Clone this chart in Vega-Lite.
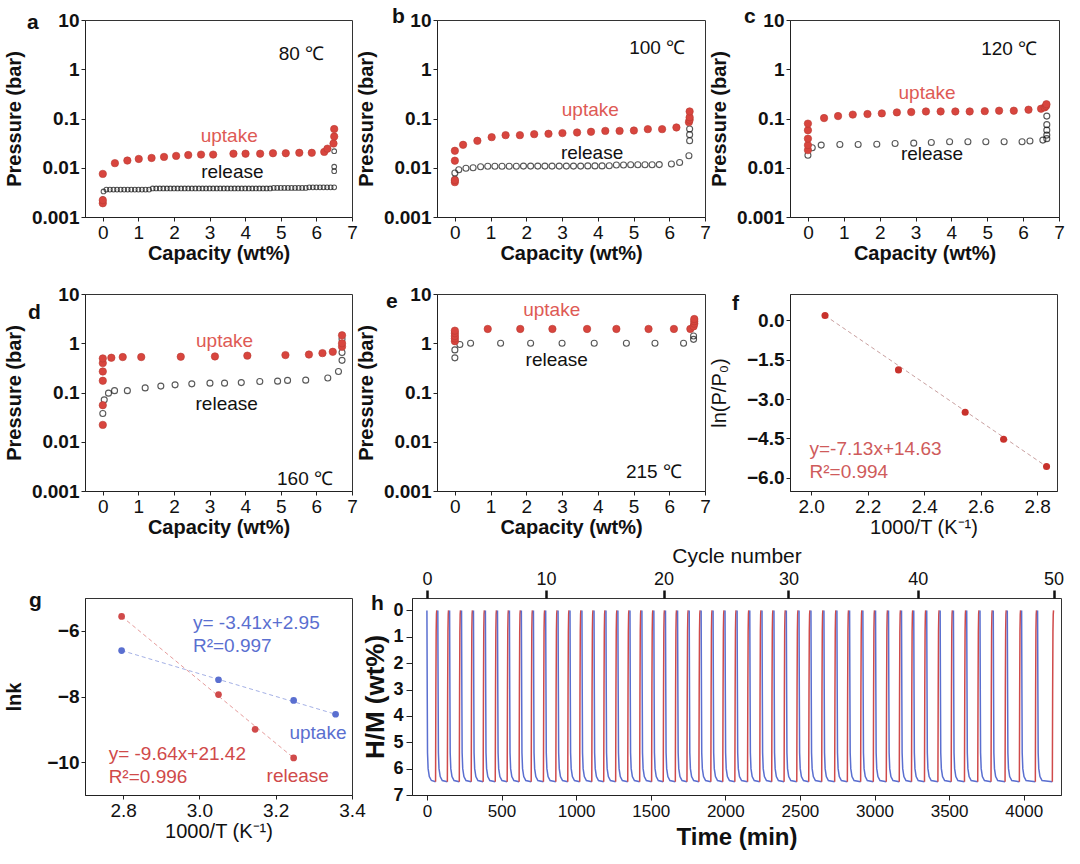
{
"$schema":"https://vega.github.io/schema/vega-lite/v6.json",
"autosize":{"type":"pad"},
"padding":{"left":3,"top":5,"right":0,"bottom":0},
"background":"white",
"config":{
 "font":"Liberation Sans",
 "view":{"stroke":"#333","strokeWidth":1},
 "axis":{"grid":false,"domainColor":"#222","tickColor":"#222","labelColor":"#111","titleColor":"#111","labelFontSize":19,"titleFontSize":20,"titleFontWeight":"bold","tickSize":4,"labelPadding":2,"labelFlush":false,"labelOverlap":false,"labelBound":false},
 "axisX":{"titlePadding":1},
 "axisY":{"labelFontWeight":"bold","minExtent":57,"maxExtent":57,"titlePadding":4},
 "title":{"fontSize":21,"fontWeight":"bold","anchor":"start","frame":"group","baseline":"alphabetic","color":"#111"}
},
"spacing":6,
"vconcat":[
{"spacing":20,"vconcat":[
{"hconcat":[
{"width":267,"height":197,
 "title":{"text":"a","dx":-58,"offset":-22},
 "data":{"values":[
  {"s":"u","x":0,"p":0.0019},{"s":"u","x":0,"p":0.0022},{"s":"u","x":0,"p":0.0075},{"s":"u","x":0.34,"p":0.0124},{"s":"u","x":0.69,"p":0.014},{"s":"u","x":1.01,"p":0.0151},{"s":"u","x":1.37,"p":0.0158},{"s":"u","x":1.72,"p":0.0166},{"s":"u","x":2.06,"p":0.0174},{"s":"u","x":2.4,"p":0.0181},{"s":"u","x":2.76,"p":0.0185},{"s":"u","x":3.1,"p":0.0185},{"s":"u","x":3.67,"p":0.0193},{"s":"u","x":4.01,"p":0.0193},{"s":"u","x":4.42,"p":0.0193},{"s":"u","x":4.78,"p":0.0197},{"s":"u","x":5.14,"p":0.0197},{"s":"u","x":5.52,"p":0.0201},{"s":"u","x":5.87,"p":0.0201},{"s":"u","x":6.22,"p":0.021},{"s":"u","x":6.31,"p":0.0244},{"s":"u","x":6.48,"p":0.031},{"s":"u","x":6.5,"p":0.043},{"s":"u","x":6.5,"p":0.061},
  {"s":"r","x":0,"p":0.0023},{"s":"r","x":0.02,"p":0.0033},
  {"s":"r","x":0.1,"p":0.0036},{"s":"r","x":0.2,"p":0.0036},{"s":"r","x":0.3,"p":0.0036},{"s":"r","x":0.4,"p":0.0036},{"s":"r","x":0.5,"p":0.0036},{"s":"r","x":0.6,"p":0.0036},{"s":"r","x":0.7,"p":0.0036},{"s":"r","x":0.8,"p":0.0036},{"s":"r","x":0.9,"p":0.0036},{"s":"r","x":1.0,"p":0.0036},{"s":"r","x":1.1,"p":0.0036},{"s":"r","x":1.2,"p":0.0036},{"s":"r","x":1.3,"p":0.0036},
  {"s":"r","x":1.4,"p":0.0038},{"s":"r","x":1.5,"p":0.0038},{"s":"r","x":1.6,"p":0.0038},{"s":"r","x":1.7,"p":0.0038},{"s":"r","x":1.8,"p":0.0038},{"s":"r","x":1.9,"p":0.0038},{"s":"r","x":2.0,"p":0.0038},{"s":"r","x":2.1,"p":0.0038},{"s":"r","x":2.2,"p":0.0038},{"s":"r","x":2.3,"p":0.0038},{"s":"r","x":2.4,"p":0.0038},{"s":"r","x":2.5,"p":0.0038},{"s":"r","x":2.6,"p":0.0038},{"s":"r","x":2.7,"p":0.0038},{"s":"r","x":2.8,"p":0.0038},{"s":"r","x":2.9,"p":0.0038},{"s":"r","x":3.0,"p":0.0038},{"s":"r","x":3.1,"p":0.0038},{"s":"r","x":3.2,"p":0.0038},{"s":"r","x":3.3,"p":0.0038},{"s":"r","x":3.4,"p":0.0038},{"s":"r","x":3.5,"p":0.0038},{"s":"r","x":3.6,"p":0.0038},{"s":"r","x":3.7,"p":0.0038},{"s":"r","x":3.8,"p":0.0038},{"s":"r","x":3.9,"p":0.0038},{"s":"r","x":4.0,"p":0.0038},{"s":"r","x":4.1,"p":0.0038},{"s":"r","x":4.2,"p":0.0038},{"s":"r","x":4.3,"p":0.0038},{"s":"r","x":4.4,"p":0.0038},{"s":"r","x":4.5,"p":0.0038},{"s":"r","x":4.6,"p":0.0038},{"s":"r","x":4.7,"p":0.0038},
  {"s":"r","x":4.8,"p":0.0039},{"s":"r","x":4.9,"p":0.0039},{"s":"r","x":5.0,"p":0.0039},{"s":"r","x":5.1,"p":0.0039},{"s":"r","x":5.2,"p":0.0039},{"s":"r","x":5.3,"p":0.0039},{"s":"r","x":5.4,"p":0.0039},{"s":"r","x":5.5,"p":0.0039},{"s":"r","x":5.6,"p":0.0039},{"s":"r","x":5.7,"p":0.0039},
  {"s":"r","x":5.8,"p":0.004},{"s":"r","x":5.9,"p":0.004},{"s":"r","x":6.0,"p":0.004},{"s":"r","x":6.1,"p":0.004},{"s":"r","x":6.2,"p":0.004},{"s":"r","x":6.3,"p":0.004},{"s":"r","x":6.4,"p":0.004},{"s":"r","x":6.5,"p":0.004},
  {"s":"r","x":6.5,"p":0.0085},{"s":"r","x":6.5,"p":0.0105},{"s":"r","x":6.5,"p":0.0217}
 ]},
 "encoding":{
  "x":{"field":"x","type":"quantitative","scale":{"domain":[-0.5,7],"nice":false,"zero":false},"axis":{"values":[0,1,2,3,4,5,6,7],"title":"Capacity (wt%)"}},
  "y":{"field":"p","type":"quantitative","scale":{"type":"log","domain":[0.001,10],"nice":false},"axis":{"values":[0.001,0.01,0.1,1,10],"format":"~g","title":"Pressure (bar)"}}
 },
 "layer":[
  {"transform":[{"filter":"datum.s=='r'"}],"mark":{"type":"point","shape":"circle","color":"#111","size":22,"strokeWidth":1.1}},
  {"transform":[{"filter":"datum.s=='u'"}],"mark":{"type":"circle","color":"#d8453e","size":55,"opacity":1,"stroke":"#b83a33","strokeWidth":0.6}},
  {"data":{"values":[{"x":5.58,"p":2.0,"t":"80 ℃"},{"x":3.55,"p":0.045,"t":"uptake"},{"x":3.64,"p":0.0081,"t":"release"}]},
   "mark":{"type":"text","fontSize":19,"baseline":"middle"},
   "encoding":{"text":{"field":"t"},"color":{"condition":{"test":"datum.t=='uptake'","value":"#de5a55"},"value":"#111"}}}
 ]},
{"width":268,"height":197,
 "title":{"text":"b","dx":-45,"offset":-16},
 "data":{"values":[
  {"s":"u","x":0,"p":0.0051},{"s":"u","x":0,"p":0.0056},{"s":"u","x":0,"p":0.0139},{"s":"u","x":0,"p":0.0221},{"s":"u","x":0.23,"p":0.0292},{"s":"u","x":0.63,"p":0.0352},{"s":"u","x":1.03,"p":0.0418},{"s":"u","x":1.42,"p":0.0459},{"s":"u","x":1.82,"p":0.0459},{"s":"u","x":2.22,"p":0.0481},{"s":"u","x":2.62,"p":0.0489},{"s":"u","x":3.01,"p":0.0505},{"s":"u","x":3.42,"p":0.052},{"s":"u","x":3.81,"p":0.0537},{"s":"u","x":4.21,"p":0.056},{"s":"u","x":4.61,"p":0.056},{"s":"u","x":5.01,"p":0.057},{"s":"u","x":5.4,"p":0.0608},{"s":"u","x":5.8,"p":0.0608},{"s":"u","x":6.2,"p":0.0658},{"s":"u","x":6.55,"p":0.0844},{"s":"u","x":6.57,"p":0.094},{"s":"u","x":6.57,"p":0.106},{"s":"u","x":6.57,"p":0.139},
  {"s":"r","x":0,"p":0.0058},{"s":"r","x":0,"p":0.0078},{"s":"r","x":0.11,"p":0.0091},{"s":"r","x":0.31,"p":0.0098},{"s":"r","x":0.51,"p":0.01},{"s":"r","x":0.72,"p":0.0105},{"s":"r","x":0.92,"p":0.0107},{"s":"r","x":1.12,"p":0.0107},{"s":"r","x":1.32,"p":0.0107},{"s":"r","x":1.52,"p":0.0107},{"s":"r","x":1.72,"p":0.0107},{"s":"r","x":1.92,"p":0.0108},{"s":"r","x":2.12,"p":0.0108},{"s":"r","x":2.32,"p":0.0108},{"s":"r","x":2.52,"p":0.0108},{"s":"r","x":2.72,"p":0.0108},{"s":"r","x":2.92,"p":0.0108},{"s":"r","x":3.12,"p":0.0108},{"s":"r","x":3.32,"p":0.0108},{"s":"r","x":3.52,"p":0.0108},{"s":"r","x":3.72,"p":0.0109},{"s":"r","x":3.92,"p":0.0109},{"s":"r","x":4.12,"p":0.0109},{"s":"r","x":4.32,"p":0.011},{"s":"r","x":4.52,"p":0.0114},{"s":"r","x":4.72,"p":0.0114},{"s":"r","x":4.92,"p":0.0115},{"s":"r","x":5.12,"p":0.0115},{"s":"r","x":5.32,"p":0.0115},{"s":"r","x":5.52,"p":0.0115},{"s":"r","x":5.72,"p":0.0116},{"s":"r","x":6.06,"p":0.0119},{"s":"r","x":6.29,"p":0.0128},{"s":"r","x":6.55,"p":0.0175},{"s":"r","x":6.57,"p":0.0354},{"s":"r","x":6.57,"p":0.047},{"s":"r","x":6.57,"p":0.061}
 ]},
 "encoding":{
  "x":{"field":"x","type":"quantitative","scale":{"domain":[-0.5,7],"nice":false,"zero":false},"axis":{"values":[0,1,2,3,4,5,6,7],"title":"Capacity (wt%)"}},
  "y":{"field":"p","type":"quantitative","scale":{"type":"log","domain":[0.001,10],"nice":false},"axis":{"values":[0.001,0.01,0.1,1,10],"format":"~g","title":"Pressure (bar)"}}
 },
 "layer":[
  {"transform":[{"filter":"datum.s=='r'"}],"mark":{"type":"point","shape":"circle","color":"#111","size":36,"strokeWidth":1.1}},
  {"transform":[{"filter":"datum.s=='u'"}],"mark":{"type":"circle","color":"#d8453e","size":55,"opacity":1,"stroke":"#b83a33","strokeWidth":0.6}},
  {"data":{"values":[{"x":5.66,"p":2.67,"t":"100 ℃"},{"x":3.79,"p":0.15,"t":"uptake"},{"x":3.84,"p":0.02,"t":"release"}]},
   "mark":{"type":"text","fontSize":19,"baseline":"middle"},
   "encoding":{"text":{"field":"t"},"color":{"condition":{"test":"datum.t=='uptake'","value":"#de5a55"},"value":"#111"}}}
 ]},
{"width":269,"height":197,
 "title":{"text":"c","dx":-46,"offset":-16},
 "data":{"values":[
  {"s":"u","x":0,"p":0.0228},{"s":"u","x":0,"p":0.0288},{"s":"u","x":0,"p":0.039},{"s":"u","x":0,"p":0.0577},{"s":"u","x":0,"p":0.0787},{"s":"u","x":0.45,"p":0.102},{"s":"u","x":0.84,"p":0.112},{"s":"u","x":1.25,"p":0.12},{"s":"u","x":1.66,"p":0.123},{"s":"u","x":2.06,"p":0.127},{"s":"u","x":2.48,"p":0.133},{"s":"u","x":2.88,"p":0.135},{"s":"u","x":3.29,"p":0.139},{"s":"u","x":3.7,"p":0.139},{"s":"u","x":4.11,"p":0.139},{"s":"u","x":4.51,"p":0.139},{"s":"u","x":4.93,"p":0.141},{"s":"u","x":5.33,"p":0.144},{"s":"u","x":5.74,"p":0.144},{"s":"u","x":6.15,"p":0.151},{"s":"u","x":6.5,"p":0.158},{"s":"u","x":6.6,"p":0.168},{"s":"u","x":6.64,"p":0.18},{"s":"u","x":6.65,"p":0.195},
  {"s":"r","x":0,"p":0.018},{"s":"r","x":0.12,"p":0.0254},{"s":"r","x":0.37,"p":0.0288},{"s":"r","x":0.89,"p":0.0297},{"s":"r","x":1.4,"p":0.0297},{"s":"r","x":1.92,"p":0.03},{"s":"r","x":2.43,"p":0.031},{"s":"r","x":2.95,"p":0.0316},{"s":"r","x":3.44,"p":0.0326},{"s":"r","x":3.95,"p":0.0337},{"s":"r","x":4.46,"p":0.0337},{"s":"r","x":4.96,"p":0.0337},{"s":"r","x":5.47,"p":0.0337},{"s":"r","x":5.97,"p":0.0337},{"s":"r","x":6.19,"p":0.035},{"s":"r","x":6.55,"p":0.0364},{"s":"r","x":6.66,"p":0.039},{"s":"r","x":6.66,"p":0.046},{"s":"r","x":6.66,"p":0.058},{"s":"r","x":6.66,"p":0.075},{"s":"r","x":6.66,"p":0.112}
 ]},
 "encoding":{
  "x":{"field":"x","type":"quantitative","scale":{"domain":[-0.5,7],"nice":false,"zero":false},"axis":{"values":[0,1,2,3,4,5,6,7],"title":"Capacity (wt%)"}},
  "y":{"field":"p","type":"quantitative","scale":{"type":"log","domain":[0.001,10],"nice":false},"axis":{"values":[0.001,0.01,0.1,1,10],"format":"~g","title":"Pressure (bar)"}}
 },
 "layer":[
  {"transform":[{"filter":"datum.s=='r'"}],"mark":{"type":"point","shape":"circle","color":"#111","size":36,"strokeWidth":1.1}},
  {"transform":[{"filter":"datum.s=='u'"}],"mark":{"type":"circle","color":"#d8453e","size":55,"opacity":1,"stroke":"#b83a33","strokeWidth":0.6}},
  {"data":{"values":[{"x":5.61,"p":2.56,"t":"120 ℃"},{"x":3.32,"p":0.33,"t":"uptake"},{"x":3.46,"p":0.0187,"t":"release"}]},
   "mark":{"type":"text","fontSize":19,"baseline":"middle"},
   "encoding":{"text":{"field":"t"},"color":{"condition":{"test":"datum.t=='uptake'","value":"#de5a55"},"value":"#111"}}}
 ]}
],"spacing":85,"bounds":"flush"},
{"hconcat":[
{"width":267,"height":197,
 "title":{"text":"d","dx":-57,"offset":-38},
 "data":{"values":[
  {"s":"u","x":0,"p":0.022},{"s":"u","x":0,"p":0.0552},{"s":"u","x":0,"p":0.173},{"s":"u","x":0,"p":0.267},{"s":"u","x":0,"p":0.395},{"s":"u","x":0,"p":0.492},{"s":"u","x":0.24,"p":0.508},{"s":"u","x":0.56,"p":0.524},{"s":"u","x":1.08,"p":0.524},{"s":"u","x":2.19,"p":0.532},{"s":"u","x":3.15,"p":0.54},{"s":"u","x":4.06,"p":0.56},{"s":"u","x":5.13,"p":0.575},{"s":"u","x":5.79,"p":0.59},{"s":"u","x":6.17,"p":0.63},{"s":"u","x":6.46,"p":0.67},{"s":"u","x":6.72,"p":0.85},{"s":"u","x":6.72,"p":1.0},{"s":"u","x":6.72,"p":1.45},
  {"s":"r","x":0,"p":0.0374},{"s":"r","x":0.04,"p":0.071},{"s":"r","x":0.16,"p":0.097},{"s":"r","x":0.33,"p":0.109},{"s":"r","x":0.69,"p":0.109},{"s":"r","x":1.19,"p":0.124},{"s":"r","x":1.63,"p":0.135},{"s":"r","x":2.03,"p":0.143},{"s":"r","x":2.5,"p":0.15},{"s":"r","x":3.01,"p":0.155},{"s":"r","x":3.42,"p":0.155},{"s":"r","x":3.89,"p":0.159},{"s":"r","x":4.41,"p":0.167},{"s":"r","x":4.91,"p":0.17},{"s":"r","x":5.19,"p":0.176},{"s":"r","x":5.7,"p":0.178},{"s":"r","x":6.32,"p":0.197},{"s":"r","x":6.62,"p":0.267},{"s":"r","x":6.72,"p":0.45},{"s":"r","x":6.72,"p":0.65},{"s":"r","x":6.72,"p":1.22}
 ]},
 "encoding":{
  "x":{"field":"x","type":"quantitative","scale":{"domain":[-0.5,7],"nice":false,"zero":false},"axis":{"values":[0,1,2,3,4,5,6,7],"title":"Capacity (wt%)"}},
  "y":{"field":"p","type":"quantitative","scale":{"type":"log","domain":[0.001,10],"nice":false},"axis":{"values":[0.001,0.01,0.1,1,10],"format":"~g","title":"Pressure (bar)"}}
 },
 "layer":[
  {"transform":[{"filter":"datum.s=='r'"}],"mark":{"type":"point","shape":"circle","color":"#111","size":36,"strokeWidth":1.1}},
  {"transform":[{"filter":"datum.s=='u'"}],"mark":{"type":"circle","color":"#d8453e","size":55,"opacity":1,"stroke":"#b83a33","strokeWidth":0.6}},
  {"data":{"values":[{"x":5.68,"p":0.00173,"t":"160 ℃"},{"x":3.42,"p":1.12,"t":"uptake"},{"x":3.48,"p":0.0597,"t":"release"}]},
   "mark":{"type":"text","fontSize":19,"baseline":"middle"},
   "encoding":{"text":{"field":"t"},"color":{"condition":{"test":"datum.t=='uptake'","value":"#de5a55"},"value":"#111"}}}
 ]},
{"width":268,"height":197,
 "title":{"text":"e","dx":-51,"offset":-27},
 "data":{"values":[
  {"s":"u","x":0,"p":1.1},{"s":"u","x":0,"p":1.25},{"s":"u","x":0,"p":1.4},{"s":"u","x":0,"p":1.6},{"s":"u","x":0,"p":1.8},{"s":"u","x":0.92,"p":1.95},{"s":"u","x":1.83,"p":1.95},{"s":"u","x":2.73,"p":1.95},{"s":"u","x":3.7,"p":1.95},{"s":"u","x":4.52,"p":1.95},{"s":"u","x":5.42,"p":1.95},{"s":"u","x":6.13,"p":1.95},{"s":"u","x":6.59,"p":1.95},{"s":"u","x":6.68,"p":2.2},{"s":"u","x":6.7,"p":2.5},{"s":"u","x":6.7,"p":2.8},{"s":"u","x":6.7,"p":3.1},
  {"s":"r","x":0,"p":0.505},{"s":"r","x":0,"p":0.733},{"s":"r","x":0.14,"p":0.94},{"s":"r","x":0.44,"p":1.0},{"s":"r","x":1.28,"p":1.0},{"s":"r","x":2.12,"p":1.0},{"s":"r","x":3.0,"p":1.0},{"s":"r","x":3.9,"p":1.0},{"s":"r","x":4.8,"p":1.0},{"s":"r","x":5.6,"p":1.0},{"s":"r","x":6.4,"p":1.0},{"s":"r","x":6.68,"p":1.2},{"s":"r","x":6.68,"p":1.4}
 ]},
 "encoding":{
  "x":{"field":"x","type":"quantitative","scale":{"domain":[-0.5,7],"nice":false,"zero":false},"axis":{"values":[0,1,2,3,4,5,6,7],"title":"Capacity (wt%)"}},
  "y":{"field":"p","type":"quantitative","scale":{"type":"log","domain":[0.001,10],"nice":false},"axis":{"values":[0.001,0.01,0.1,1,10],"format":"~g","title":"Pressure (bar)"}}
 },
 "layer":[
  {"transform":[{"filter":"datum.s=='r'"}],"mark":{"type":"point","shape":"circle","color":"#111","size":36,"strokeWidth":1.1}},
  {"transform":[{"filter":"datum.s=='u'"}],"mark":{"type":"circle","color":"#d8453e","size":55,"opacity":1,"stroke":"#b83a33","strokeWidth":0.6}},
  {"data":{"values":[{"x":5.57,"p":0.00243,"t":"215 ℃"},{"x":2.71,"p":4.74,"t":"uptake"},{"x":2.85,"p":0.46,"t":"release"}]},
   "mark":{"type":"text","fontSize":19,"baseline":"middle"},
   "encoding":{"text":{"field":"t"},"color":{"condition":{"test":"datum.t=='uptake'","value":"#de5a55"},"value":"#111"}}}
 ]},
{"width":267,"height":197,
 "title":{"text":"f","dx":-58,"offset":-20},
 "encoding":{
  "x":{"field":"x","type":"quantitative","scale":{"domain":[1.925,2.87],"nice":false,"zero":false},"axis":{"values":[2.0,2.2,2.4,2.6,2.8],"format":".1f","title":"1000/T (K⁻¹)","titleFontWeight":"normal"}},
  "y":{"field":"y","type":"quantitative","scale":{"domain":[-6.5,1],"nice":false,"zero":false},"axis":{"values":[0,-1.5,-3,-4.5,-6],"format":".1f","title":"ln(P/P₀)","titleFontWeight":"normal"}}
 },
 "layer":[
  {"data":{"values":[{"x":2.049,"y":0.18},{"x":2.833,"y":-5.57}]},"mark":{"type":"line","color":"#c9a0a0","strokeDash":[4,3],"strokeWidth":1}},
  {"data":{"values":[{"x":2.049,"y":0.18},{"x":2.309,"y":-1.89},{"x":2.545,"y":-3.5},{"x":2.681,"y":-4.53},{"x":2.833,"y":-5.57}]},"mark":{"type":"circle","color":"#c8322c","size":50,"opacity":1}},
  {"data":{"values":[{"x":1.994,"y":-4.9,"t":"y=-7.13x+14.63"},{"x":1.994,"y":-5.76,"t":"R²=0.994"}]},"mark":{"type":"text","align":"left","baseline":"middle","fontSize":19,"color":"#cf5b5b"},"encoding":{"text":{"field":"t"}}}
 ]}
],"spacing":85,"bounds":"flush"}
]},
{"vconcat":[
{"hconcat":[
{"width":267,"height":197,
 "title":{"text":"g","dx":-56,"offset":-13},
 "encoding":{
  "x":{"field":"x","type":"quantitative","scale":{"domain":[2.7,3.4],"nice":false,"zero":false},"axis":{"values":[2.8,3.0,3.2,3.4],"format":".1f","title":"1000/T (K⁻¹)","titleFontWeight":"normal"}},
  "y":{"field":"y","type":"quantitative","scale":{"domain":[-11,-5],"nice":false,"zero":false},"axis":{"values":[-6,-8,-10],"title":"lnk"}},
  "color":{"field":"s","type":"nominal","scale":{"domain":["up","rel"],"range":["#5a6fd0","#d04a4a"]},"legend":null}
 },
 "layer":[
  {"data":{"values":[{"s":"rel","x":2.796,"y":-5.56},{"s":"rel","x":3.247,"y":-9.87},{"s":"up","x":2.796,"y":-6.6},{"s":"up","x":3.357,"y":-8.54}]},"mark":{"type":"line","strokeDash":[4,3],"strokeWidth":1,"opacity":0.55}},
  {"data":{"values":[{"s":"rel","x":2.796,"y":-5.56},{"s":"rel","x":3.05,"y":-7.94},{"s":"rel","x":3.146,"y":-9.0},{"s":"rel","x":3.247,"y":-9.87},{"s":"up","x":2.796,"y":-6.6},{"s":"up","x":3.05,"y":-7.49},{"s":"up","x":3.247,"y":-8.12},{"s":"up","x":3.357,"y":-8.54}]},"mark":{"type":"circle","size":45,"opacity":1}},
  {"data":{"values":[{"s":"up","x":2.983,"y":-5.77,"t":"y= -3.41x+2.95"},{"s":"up","x":2.983,"y":-6.46,"t":"R²=0.997"},{"s":"up","x":3.236,"y":-9.11,"t":"uptake"},{"s":"rel","x":2.762,"y":-9.75,"t":"y= -9.64x+21.42"},{"s":"rel","x":2.762,"y":-10.45,"t":"R²=0.996"},{"s":"rel","x":3.176,"y":-10.43,"t":"release"}]},"mark":{"type":"text","align":"left","baseline":"middle","fontSize":19},"encoding":{"text":{"field":"t"}}}
 ]},
{"width":649,"height":197,
 "title":{"text":"h","dx":-41,"offset":-69},
 "layer":[
  {"data":{"values":[
{"s":"r","c":0,"t":0,"h":0},{"s":"r","c":0,"t":2,"h":3},{"s":"r","c":0,"t":4,"h":5.4},{"s":"r","c":0,"t":8,"h":6},{"s":"r","c":0,"t":16,"h":6.3},{"s":"r","c":0,"t":30,"h":6.45},{"s":"r","c":0,"t":58,"h":6.5},{"s":"b","c":0,"t":58,"h":6.5},{"s":"b","c":0,"t":60,"h":3},{"s":"b","c":0,"t":62,"h":0.8},{"s":"b","c":0,"t":64,"h":0.15},{"s":"b","c":0,"t":66,"h":0},
{"s":"r","c":1,"t":73,"h":0},{"s":"r","c":1,"t":75,"h":3},{"s":"r","c":1,"t":77,"h":5.4},{"s":"r","c":1,"t":81,"h":6},{"s":"r","c":1,"t":89,"h":6.3},{"s":"r","c":1,"t":103,"h":6.45},{"s":"r","c":1,"t":137,"h":6.5},{"s":"b","c":1,"t":137,"h":6.5},{"s":"b","c":1,"t":139,"h":3},{"s":"b","c":1,"t":141,"h":0.8},{"s":"b","c":1,"t":143,"h":0.15},{"s":"b","c":1,"t":145,"h":0},
{"s":"r","c":2,"t":152,"h":0},{"s":"r","c":2,"t":154,"h":3},{"s":"r","c":2,"t":156,"h":5.4},{"s":"r","c":2,"t":160,"h":6},{"s":"r","c":2,"t":168,"h":6.3},{"s":"r","c":2,"t":182,"h":6.45},{"s":"r","c":2,"t":217,"h":6.5},{"s":"b","c":2,"t":217,"h":6.5},{"s":"b","c":2,"t":219,"h":3},{"s":"b","c":2,"t":221,"h":0.8},{"s":"b","c":2,"t":223,"h":0.15},{"s":"b","c":2,"t":225,"h":0},
{"s":"r","c":3,"t":232,"h":0},{"s":"r","c":3,"t":234,"h":3},{"s":"r","c":3,"t":236,"h":5.4},{"s":"r","c":3,"t":240,"h":6},{"s":"r","c":3,"t":248,"h":6.3},{"s":"r","c":3,"t":262,"h":6.45},{"s":"r","c":3,"t":297,"h":6.5},{"s":"b","c":3,"t":297,"h":6.5},{"s":"b","c":3,"t":299,"h":3},{"s":"b","c":3,"t":301,"h":0.8},{"s":"b","c":3,"t":303,"h":0.15},{"s":"b","c":3,"t":305,"h":0},
{"s":"r","c":4,"t":312,"h":0},{"s":"r","c":4,"t":314,"h":3},{"s":"r","c":4,"t":316,"h":5.4},{"s":"r","c":4,"t":320,"h":6},{"s":"r","c":4,"t":328,"h":6.3},{"s":"r","c":4,"t":342,"h":6.45},{"s":"r","c":4,"t":377,"h":6.5},{"s":"b","c":4,"t":377,"h":6.5},{"s":"b","c":4,"t":379,"h":3},{"s":"b","c":4,"t":381,"h":0.8},{"s":"b","c":4,"t":383,"h":0.15},{"s":"b","c":4,"t":385,"h":0},
{"s":"r","c":5,"t":392,"h":0},{"s":"r","c":5,"t":394,"h":3},{"s":"r","c":5,"t":396,"h":5.4},{"s":"r","c":5,"t":400,"h":6},{"s":"r","c":5,"t":408,"h":6.3},{"s":"r","c":5,"t":422,"h":6.45},{"s":"r","c":5,"t":458,"h":6.5},{"s":"b","c":5,"t":458,"h":6.5},{"s":"b","c":5,"t":460,"h":3},{"s":"b","c":5,"t":462,"h":0.8},{"s":"b","c":5,"t":464,"h":0.15},{"s":"b","c":5,"t":466,"h":0},
{"s":"r","c":6,"t":473,"h":0},{"s":"r","c":6,"t":475,"h":3},{"s":"r","c":6,"t":477,"h":5.4},{"s":"r","c":6,"t":481,"h":6},{"s":"r","c":6,"t":489,"h":6.3},{"s":"r","c":6,"t":503,"h":6.45},{"s":"r","c":6,"t":538,"h":6.5},{"s":"b","c":6,"t":538,"h":6.5},{"s":"b","c":6,"t":540,"h":3},{"s":"b","c":6,"t":542,"h":0.8},{"s":"b","c":6,"t":544,"h":0.15},{"s":"b","c":6,"t":546,"h":0},
{"s":"r","c":7,"t":553,"h":0},{"s":"r","c":7,"t":555,"h":3},{"s":"r","c":7,"t":557,"h":5.4},{"s":"r","c":7,"t":561,"h":6},{"s":"r","c":7,"t":569,"h":6.3},{"s":"r","c":7,"t":583,"h":6.45},{"s":"r","c":7,"t":618,"h":6.5},{"s":"b","c":7,"t":618,"h":6.5},{"s":"b","c":7,"t":620,"h":3},{"s":"b","c":7,"t":622,"h":0.8},{"s":"b","c":7,"t":624,"h":0.15},{"s":"b","c":7,"t":626,"h":0},
{"s":"r","c":8,"t":633,"h":0},{"s":"r","c":8,"t":635,"h":3},{"s":"r","c":8,"t":637,"h":5.4},{"s":"r","c":8,"t":641,"h":6},{"s":"r","c":8,"t":649,"h":6.3},{"s":"r","c":8,"t":663,"h":6.45},{"s":"r","c":8,"t":699,"h":6.5},{"s":"b","c":8,"t":699,"h":6.5},{"s":"b","c":8,"t":701,"h":3},{"s":"b","c":8,"t":703,"h":0.8},{"s":"b","c":8,"t":705,"h":0.15},{"s":"b","c":8,"t":707,"h":0},
{"s":"r","c":9,"t":714,"h":0},{"s":"r","c":9,"t":716,"h":3},{"s":"r","c":9,"t":718,"h":5.4},{"s":"r","c":9,"t":722,"h":6},{"s":"r","c":9,"t":730,"h":6.3},{"s":"r","c":9,"t":744,"h":6.45},{"s":"r","c":9,"t":781,"h":6.5},{"s":"b","c":9,"t":781,"h":6.5},{"s":"b","c":9,"t":783,"h":3},{"s":"b","c":9,"t":785,"h":0.8},{"s":"b","c":9,"t":787,"h":0.15},{"s":"b","c":9,"t":789,"h":0},
{"s":"r","c":10,"t":796,"h":0},{"s":"r","c":10,"t":798,"h":3},{"s":"r","c":10,"t":800,"h":5.4},{"s":"r","c":10,"t":804,"h":6},{"s":"r","c":10,"t":812,"h":6.3},{"s":"r","c":10,"t":826,"h":6.45},{"s":"r","c":10,"t":864,"h":6.5},{"s":"b","c":10,"t":864,"h":6.5},{"s":"b","c":10,"t":866,"h":3},{"s":"b","c":10,"t":868,"h":0.8},{"s":"b","c":10,"t":870,"h":0.15},{"s":"b","c":10,"t":872,"h":0},
{"s":"r","c":11,"t":879,"h":0},{"s":"r","c":11,"t":881,"h":3},{"s":"r","c":11,"t":883,"h":5.4},{"s":"r","c":11,"t":887,"h":6},{"s":"r","c":11,"t":895,"h":6.3},{"s":"r","c":11,"t":909,"h":6.45},{"s":"r","c":11,"t":944,"h":6.5},{"s":"b","c":11,"t":944,"h":6.5},{"s":"b","c":11,"t":946,"h":3},{"s":"b","c":11,"t":948,"h":0.8},{"s":"b","c":11,"t":950,"h":0.15},{"s":"b","c":11,"t":952,"h":0},
{"s":"r","c":12,"t":959,"h":0},{"s":"r","c":12,"t":961,"h":3},{"s":"r","c":12,"t":963,"h":5.4},{"s":"r","c":12,"t":967,"h":6},{"s":"r","c":12,"t":975,"h":6.3},{"s":"r","c":12,"t":989,"h":6.45},{"s":"r","c":12,"t":1024,"h":6.5},{"s":"b","c":12,"t":1024,"h":6.5},{"s":"b","c":12,"t":1026,"h":3},{"s":"b","c":12,"t":1028,"h":0.8},{"s":"b","c":12,"t":1030,"h":0.15},{"s":"b","c":12,"t":1032,"h":0},
{"s":"r","c":13,"t":1039,"h":0},{"s":"r","c":13,"t":1041,"h":3},{"s":"r","c":13,"t":1043,"h":5.4},{"s":"r","c":13,"t":1047,"h":6},{"s":"r","c":13,"t":1055,"h":6.3},{"s":"r","c":13,"t":1069,"h":6.45},{"s":"r","c":13,"t":1105,"h":6.5},{"s":"b","c":13,"t":1105,"h":6.5},{"s":"b","c":13,"t":1107,"h":3},{"s":"b","c":13,"t":1109,"h":0.8},{"s":"b","c":13,"t":1111,"h":0.15},{"s":"b","c":13,"t":1113,"h":0},
{"s":"r","c":14,"t":1120,"h":0},{"s":"r","c":14,"t":1122,"h":3},{"s":"r","c":14,"t":1124,"h":5.4},{"s":"r","c":14,"t":1128,"h":6},{"s":"r","c":14,"t":1136,"h":6.3},{"s":"r","c":14,"t":1150,"h":6.45},{"s":"r","c":14,"t":1185,"h":6.5},{"s":"b","c":14,"t":1185,"h":6.5},{"s":"b","c":14,"t":1187,"h":3},{"s":"b","c":14,"t":1189,"h":0.8},{"s":"b","c":14,"t":1191,"h":0.15},{"s":"b","c":14,"t":1193,"h":0},
{"s":"r","c":15,"t":1200,"h":0},{"s":"r","c":15,"t":1202,"h":3},{"s":"r","c":15,"t":1204,"h":5.4},{"s":"r","c":15,"t":1208,"h":6},{"s":"r","c":15,"t":1216,"h":6.3},{"s":"r","c":15,"t":1230,"h":6.45},{"s":"r","c":15,"t":1265,"h":6.5},{"s":"b","c":15,"t":1265,"h":6.5},{"s":"b","c":15,"t":1267,"h":3},{"s":"b","c":15,"t":1269,"h":0.8},{"s":"b","c":15,"t":1271,"h":0.15},{"s":"b","c":15,"t":1273,"h":0},
{"s":"r","c":16,"t":1280,"h":0},{"s":"r","c":16,"t":1282,"h":3},{"s":"r","c":16,"t":1284,"h":5.4},{"s":"r","c":16,"t":1288,"h":6},{"s":"r","c":16,"t":1296,"h":6.3},{"s":"r","c":16,"t":1310,"h":6.45},{"s":"r","c":16,"t":1346,"h":6.5},{"s":"b","c":16,"t":1346,"h":6.5},{"s":"b","c":16,"t":1348,"h":3},{"s":"b","c":16,"t":1350,"h":0.8},{"s":"b","c":16,"t":1352,"h":0.15},{"s":"b","c":16,"t":1354,"h":0},
{"s":"r","c":17,"t":1361,"h":0},{"s":"r","c":17,"t":1363,"h":3},{"s":"r","c":17,"t":1365,"h":5.4},{"s":"r","c":17,"t":1369,"h":6},{"s":"r","c":17,"t":1377,"h":6.3},{"s":"r","c":17,"t":1391,"h":6.45},{"s":"r","c":17,"t":1426,"h":6.5},{"s":"b","c":17,"t":1426,"h":6.5},{"s":"b","c":17,"t":1428,"h":3},{"s":"b","c":17,"t":1430,"h":0.8},{"s":"b","c":17,"t":1432,"h":0.15},{"s":"b","c":17,"t":1434,"h":0},
{"s":"r","c":18,"t":1441,"h":0},{"s":"r","c":18,"t":1443,"h":3},{"s":"r","c":18,"t":1445,"h":5.4},{"s":"r","c":18,"t":1449,"h":6},{"s":"r","c":18,"t":1457,"h":6.3},{"s":"r","c":18,"t":1471,"h":6.45},{"s":"r","c":18,"t":1506,"h":6.5},{"s":"b","c":18,"t":1506,"h":6.5},{"s":"b","c":18,"t":1508,"h":3},{"s":"b","c":18,"t":1510,"h":0.8},{"s":"b","c":18,"t":1512,"h":0.15},{"s":"b","c":18,"t":1514,"h":0},
{"s":"r","c":19,"t":1521,"h":0},{"s":"r","c":19,"t":1523,"h":3},{"s":"r","c":19,"t":1525,"h":5.4},{"s":"r","c":19,"t":1529,"h":6},{"s":"r","c":19,"t":1537,"h":6.3},{"s":"r","c":19,"t":1551,"h":6.45},{"s":"r","c":19,"t":1584,"h":6.5},{"s":"b","c":19,"t":1584,"h":6.5},{"s":"b","c":19,"t":1586,"h":3},{"s":"b","c":19,"t":1588,"h":0.8},{"s":"b","c":19,"t":1590,"h":0.15},{"s":"b","c":19,"t":1592,"h":0},
{"s":"r","c":20,"t":1599,"h":0},{"s":"r","c":20,"t":1601,"h":3},{"s":"r","c":20,"t":1603,"h":5.4},{"s":"r","c":20,"t":1607,"h":6},{"s":"r","c":20,"t":1615,"h":6.3},{"s":"r","c":20,"t":1629,"h":6.45},{"s":"r","c":20,"t":1665,"h":6.5},{"s":"b","c":20,"t":1665,"h":6.5},{"s":"b","c":20,"t":1667,"h":3},{"s":"b","c":20,"t":1669,"h":0.8},{"s":"b","c":20,"t":1671,"h":0.15},{"s":"b","c":20,"t":1673,"h":0},
{"s":"r","c":21,"t":1680,"h":0},{"s":"r","c":21,"t":1682,"h":3},{"s":"r","c":21,"t":1684,"h":5.4},{"s":"r","c":21,"t":1688,"h":6},{"s":"r","c":21,"t":1696,"h":6.3},{"s":"r","c":21,"t":1710,"h":6.45},{"s":"r","c":21,"t":1743,"h":6.5},{"s":"b","c":21,"t":1743,"h":6.5},{"s":"b","c":21,"t":1745,"h":3},{"s":"b","c":21,"t":1747,"h":0.8},{"s":"b","c":21,"t":1749,"h":0.15},{"s":"b","c":21,"t":1751,"h":0},
{"s":"r","c":22,"t":1758,"h":0},{"s":"r","c":22,"t":1760,"h":3},{"s":"r","c":22,"t":1762,"h":5.4},{"s":"r","c":22,"t":1766,"h":6},{"s":"r","c":22,"t":1774,"h":6.3},{"s":"r","c":22,"t":1788,"h":6.45},{"s":"r","c":22,"t":1823,"h":6.5},{"s":"b","c":22,"t":1823,"h":6.5},{"s":"b","c":22,"t":1825,"h":3},{"s":"b","c":22,"t":1827,"h":0.8},{"s":"b","c":22,"t":1829,"h":0.15},{"s":"b","c":22,"t":1831,"h":0},
{"s":"r","c":23,"t":1838,"h":0},{"s":"r","c":23,"t":1840,"h":3},{"s":"r","c":23,"t":1842,"h":5.4},{"s":"r","c":23,"t":1846,"h":6},{"s":"r","c":23,"t":1854,"h":6.3},{"s":"r","c":23,"t":1868,"h":6.45},{"s":"r","c":23,"t":1903,"h":6.5},{"s":"b","c":23,"t":1903,"h":6.5},{"s":"b","c":23,"t":1905,"h":3},{"s":"b","c":23,"t":1907,"h":0.8},{"s":"b","c":23,"t":1909,"h":0.15},{"s":"b","c":23,"t":1911,"h":0},
{"s":"r","c":24,"t":1918,"h":0},{"s":"r","c":24,"t":1920,"h":3},{"s":"r","c":24,"t":1922,"h":5.4},{"s":"r","c":24,"t":1926,"h":6},{"s":"r","c":24,"t":1934,"h":6.3},{"s":"r","c":24,"t":1948,"h":6.45},{"s":"r","c":24,"t":1983,"h":6.5},{"s":"b","c":24,"t":1983,"h":6.5},{"s":"b","c":24,"t":1985,"h":3},{"s":"b","c":24,"t":1987,"h":0.8},{"s":"b","c":24,"t":1989,"h":0.15},{"s":"b","c":24,"t":1991,"h":0},
{"s":"r","c":25,"t":1998,"h":0},{"s":"r","c":25,"t":2000,"h":3},{"s":"r","c":25,"t":2002,"h":5.4},{"s":"r","c":25,"t":2006,"h":6},{"s":"r","c":25,"t":2014,"h":6.3},{"s":"r","c":25,"t":2028,"h":6.45},{"s":"r","c":25,"t":2064,"h":6.5},{"s":"b","c":25,"t":2064,"h":6.5},{"s":"b","c":25,"t":2066,"h":3},{"s":"b","c":25,"t":2068,"h":0.8},{"s":"b","c":25,"t":2070,"h":0.15},{"s":"b","c":25,"t":2072,"h":0},
{"s":"r","c":26,"t":2079,"h":0},{"s":"r","c":26,"t":2081,"h":3},{"s":"r","c":26,"t":2083,"h":5.4},{"s":"r","c":26,"t":2087,"h":6},{"s":"r","c":26,"t":2095,"h":6.3},{"s":"r","c":26,"t":2109,"h":6.45},{"s":"r","c":26,"t":2149,"h":6.5},{"s":"b","c":26,"t":2149,"h":6.5},{"s":"b","c":26,"t":2151,"h":3},{"s":"b","c":26,"t":2153,"h":0.8},{"s":"b","c":26,"t":2155,"h":0.15},{"s":"b","c":26,"t":2157,"h":0},
{"s":"r","c":27,"t":2164,"h":0},{"s":"r","c":27,"t":2166,"h":3},{"s":"r","c":27,"t":2168,"h":5.4},{"s":"r","c":27,"t":2172,"h":6},{"s":"r","c":27,"t":2180,"h":6.3},{"s":"r","c":27,"t":2194,"h":6.45},{"s":"r","c":27,"t":2231,"h":6.5},{"s":"b","c":27,"t":2231,"h":6.5},{"s":"b","c":27,"t":2233,"h":3},{"s":"b","c":27,"t":2235,"h":0.8},{"s":"b","c":27,"t":2237,"h":0.15},{"s":"b","c":27,"t":2239,"h":0},
{"s":"r","c":28,"t":2246,"h":0},{"s":"r","c":28,"t":2248,"h":3},{"s":"r","c":28,"t":2250,"h":5.4},{"s":"r","c":28,"t":2254,"h":6},{"s":"r","c":28,"t":2262,"h":6.3},{"s":"r","c":28,"t":2276,"h":6.45},{"s":"r","c":28,"t":2311,"h":6.5},{"s":"b","c":28,"t":2311,"h":6.5},{"s":"b","c":28,"t":2313,"h":3},{"s":"b","c":28,"t":2315,"h":0.8},{"s":"b","c":28,"t":2317,"h":0.15},{"s":"b","c":28,"t":2319,"h":0},
{"s":"r","c":29,"t":2326,"h":0},{"s":"r","c":29,"t":2328,"h":3},{"s":"r","c":29,"t":2330,"h":5.4},{"s":"r","c":29,"t":2334,"h":6},{"s":"r","c":29,"t":2342,"h":6.3},{"s":"r","c":29,"t":2356,"h":6.45},{"s":"r","c":29,"t":2394,"h":6.5},{"s":"b","c":29,"t":2394,"h":6.5},{"s":"b","c":29,"t":2396,"h":3},{"s":"b","c":29,"t":2398,"h":0.8},{"s":"b","c":29,"t":2400,"h":0.15},{"s":"b","c":29,"t":2402,"h":0},
{"s":"r","c":30,"t":2409,"h":0},{"s":"r","c":30,"t":2411,"h":3},{"s":"r","c":30,"t":2413,"h":5.4},{"s":"r","c":30,"t":2417,"h":6},{"s":"r","c":30,"t":2425,"h":6.3},{"s":"r","c":30,"t":2439,"h":6.45},{"s":"r","c":30,"t":2479,"h":6.5},{"s":"b","c":30,"t":2479,"h":6.5},{"s":"b","c":30,"t":2481,"h":3},{"s":"b","c":30,"t":2483,"h":0.8},{"s":"b","c":30,"t":2485,"h":0.15},{"s":"b","c":30,"t":2487,"h":0},
{"s":"r","c":31,"t":2494,"h":0},{"s":"r","c":31,"t":2496,"h":3},{"s":"r","c":31,"t":2498,"h":5.4},{"s":"r","c":31,"t":2502,"h":6},{"s":"r","c":31,"t":2510,"h":6.3},{"s":"r","c":31,"t":2524,"h":6.45},{"s":"r","c":31,"t":2559,"h":6.5},{"s":"b","c":31,"t":2559,"h":6.5},{"s":"b","c":31,"t":2561,"h":3},{"s":"b","c":31,"t":2563,"h":0.8},{"s":"b","c":31,"t":2565,"h":0.15},{"s":"b","c":31,"t":2567,"h":0},
{"s":"r","c":32,"t":2574,"h":0},{"s":"r","c":32,"t":2576,"h":3},{"s":"r","c":32,"t":2578,"h":5.4},{"s":"r","c":32,"t":2582,"h":6},{"s":"r","c":32,"t":2590,"h":6.3},{"s":"r","c":32,"t":2604,"h":6.45},{"s":"r","c":32,"t":2646,"h":6.5},{"s":"b","c":32,"t":2646,"h":6.5},{"s":"b","c":32,"t":2648,"h":3},{"s":"b","c":32,"t":2650,"h":0.8},{"s":"b","c":32,"t":2652,"h":0.15},{"s":"b","c":32,"t":2654,"h":0},
{"s":"r","c":33,"t":2661,"h":0},{"s":"r","c":33,"t":2663,"h":3},{"s":"r","c":33,"t":2665,"h":5.4},{"s":"r","c":33,"t":2669,"h":6},{"s":"r","c":33,"t":2677,"h":6.3},{"s":"r","c":33,"t":2691,"h":6.45},{"s":"r","c":33,"t":2733,"h":6.5},{"s":"b","c":33,"t":2733,"h":6.5},{"s":"b","c":33,"t":2735,"h":3},{"s":"b","c":33,"t":2737,"h":0.8},{"s":"b","c":33,"t":2739,"h":0.15},{"s":"b","c":33,"t":2741,"h":0},
{"s":"r","c":34,"t":2748,"h":0},{"s":"r","c":34,"t":2750,"h":3},{"s":"r","c":34,"t":2752,"h":5.4},{"s":"r","c":34,"t":2756,"h":6},{"s":"r","c":34,"t":2764,"h":6.3},{"s":"r","c":34,"t":2778,"h":6.45},{"s":"r","c":34,"t":2818,"h":6.5},{"s":"b","c":34,"t":2818,"h":6.5},{"s":"b","c":34,"t":2820,"h":3},{"s":"b","c":34,"t":2822,"h":0.8},{"s":"b","c":34,"t":2824,"h":0.15},{"s":"b","c":34,"t":2826,"h":0},
{"s":"r","c":35,"t":2833,"h":0},{"s":"r","c":35,"t":2835,"h":3},{"s":"r","c":35,"t":2837,"h":5.4},{"s":"r","c":35,"t":2841,"h":6},{"s":"r","c":35,"t":2849,"h":6.3},{"s":"r","c":35,"t":2863,"h":6.45},{"s":"r","c":35,"t":2907,"h":6.5},{"s":"b","c":35,"t":2907,"h":6.5},{"s":"b","c":35,"t":2909,"h":3},{"s":"b","c":35,"t":2911,"h":0.8},{"s":"b","c":35,"t":2913,"h":0.15},{"s":"b","c":35,"t":2915,"h":0},
{"s":"r","c":36,"t":2922,"h":0},{"s":"r","c":36,"t":2924,"h":3},{"s":"r","c":36,"t":2926,"h":5.4},{"s":"r","c":36,"t":2930,"h":6},{"s":"r","c":36,"t":2938,"h":6.3},{"s":"r","c":36,"t":2952,"h":6.45},{"s":"r","c":36,"t":2992,"h":6.5},{"s":"b","c":36,"t":2992,"h":6.5},{"s":"b","c":36,"t":2994,"h":3},{"s":"b","c":36,"t":2996,"h":0.8},{"s":"b","c":36,"t":2998,"h":0.15},{"s":"b","c":36,"t":3000,"h":0},
{"s":"r","c":37,"t":3007,"h":0},{"s":"r","c":37,"t":3009,"h":3},{"s":"r","c":37,"t":3011,"h":5.4},{"s":"r","c":37,"t":3015,"h":6},{"s":"r","c":37,"t":3023,"h":6.3},{"s":"r","c":37,"t":3037,"h":6.45},{"s":"r","c":37,"t":3079,"h":6.5},{"s":"b","c":37,"t":3079,"h":6.5},{"s":"b","c":37,"t":3081,"h":3},{"s":"b","c":37,"t":3083,"h":0.8},{"s":"b","c":37,"t":3085,"h":0.15},{"s":"b","c":37,"t":3087,"h":0},
{"s":"r","c":38,"t":3094,"h":0},{"s":"r","c":38,"t":3096,"h":3},{"s":"r","c":38,"t":3098,"h":5.4},{"s":"r","c":38,"t":3102,"h":6},{"s":"r","c":38,"t":3110,"h":6.3},{"s":"r","c":38,"t":3124,"h":6.45},{"s":"r","c":38,"t":3166,"h":6.5},{"s":"b","c":38,"t":3166,"h":6.5},{"s":"b","c":38,"t":3168,"h":3},{"s":"b","c":38,"t":3170,"h":0.8},{"s":"b","c":38,"t":3172,"h":0.15},{"s":"b","c":38,"t":3174,"h":0},
{"s":"r","c":39,"t":3181,"h":0},{"s":"r","c":39,"t":3183,"h":3},{"s":"r","c":39,"t":3185,"h":5.4},{"s":"r","c":39,"t":3189,"h":6},{"s":"r","c":39,"t":3197,"h":6.3},{"s":"r","c":39,"t":3211,"h":6.45},{"s":"r","c":39,"t":3248,"h":6.5},{"s":"b","c":39,"t":3248,"h":6.5},{"s":"b","c":39,"t":3250,"h":3},{"s":"b","c":39,"t":3252,"h":0.8},{"s":"b","c":39,"t":3254,"h":0.15},{"s":"b","c":39,"t":3256,"h":0},
{"s":"r","c":40,"t":3263,"h":0},{"s":"r","c":40,"t":3265,"h":3},{"s":"r","c":40,"t":3267,"h":5.4},{"s":"r","c":40,"t":3271,"h":6},{"s":"r","c":40,"t":3279,"h":6.3},{"s":"r","c":40,"t":3293,"h":6.45},{"s":"r","c":40,"t":3335,"h":6.5},{"s":"b","c":40,"t":3335,"h":6.5},{"s":"b","c":40,"t":3337,"h":3},{"s":"b","c":40,"t":3339,"h":0.8},{"s":"b","c":40,"t":3341,"h":0.15},{"s":"b","c":40,"t":3343,"h":0},
{"s":"r","c":41,"t":3350,"h":0},{"s":"r","c":41,"t":3352,"h":3},{"s":"r","c":41,"t":3354,"h":5.4},{"s":"r","c":41,"t":3358,"h":6},{"s":"r","c":41,"t":3366,"h":6.3},{"s":"r","c":41,"t":3380,"h":6.45},{"s":"r","c":41,"t":3425,"h":6.5},{"s":"b","c":41,"t":3425,"h":6.5},{"s":"b","c":41,"t":3427,"h":3},{"s":"b","c":41,"t":3429,"h":0.8},{"s":"b","c":41,"t":3431,"h":0.15},{"s":"b","c":41,"t":3433,"h":0},
{"s":"r","c":42,"t":3440,"h":0},{"s":"r","c":42,"t":3442,"h":3},{"s":"r","c":42,"t":3444,"h":5.4},{"s":"r","c":42,"t":3448,"h":6},{"s":"r","c":42,"t":3456,"h":6.3},{"s":"r","c":42,"t":3470,"h":6.45},{"s":"r","c":42,"t":3514,"h":6.5},{"s":"b","c":42,"t":3514,"h":6.5},{"s":"b","c":42,"t":3516,"h":3},{"s":"b","c":42,"t":3518,"h":0.8},{"s":"b","c":42,"t":3520,"h":0.15},{"s":"b","c":42,"t":3522,"h":0},
{"s":"r","c":43,"t":3529,"h":0},{"s":"r","c":43,"t":3531,"h":3},{"s":"r","c":43,"t":3533,"h":5.4},{"s":"r","c":43,"t":3537,"h":6},{"s":"r","c":43,"t":3545,"h":6.3},{"s":"r","c":43,"t":3559,"h":6.45},{"s":"r","c":43,"t":3603,"h":6.5},{"s":"b","c":43,"t":3603,"h":6.5},{"s":"b","c":43,"t":3605,"h":3},{"s":"b","c":43,"t":3607,"h":0.8},{"s":"b","c":43,"t":3609,"h":0.15},{"s":"b","c":43,"t":3611,"h":0},
{"s":"r","c":44,"t":3618,"h":0},{"s":"r","c":44,"t":3620,"h":3},{"s":"r","c":44,"t":3622,"h":5.4},{"s":"r","c":44,"t":3626,"h":6},{"s":"r","c":44,"t":3634,"h":6.3},{"s":"r","c":44,"t":3648,"h":6.45},{"s":"r","c":44,"t":3692,"h":6.5},{"s":"b","c":44,"t":3692,"h":6.5},{"s":"b","c":44,"t":3694,"h":3},{"s":"b","c":44,"t":3696,"h":0.8},{"s":"b","c":44,"t":3698,"h":0.15},{"s":"b","c":44,"t":3700,"h":0},
{"s":"r","c":45,"t":3707,"h":0},{"s":"r","c":45,"t":3709,"h":3},{"s":"r","c":45,"t":3711,"h":5.4},{"s":"r","c":45,"t":3715,"h":6},{"s":"r","c":45,"t":3723,"h":6.3},{"s":"r","c":45,"t":3737,"h":6.45},{"s":"r","c":45,"t":3781,"h":6.5},{"s":"b","c":45,"t":3781,"h":6.5},{"s":"b","c":45,"t":3783,"h":3},{"s":"b","c":45,"t":3785,"h":0.8},{"s":"b","c":45,"t":3787,"h":0.15},{"s":"b","c":45,"t":3789,"h":0},
{"s":"r","c":46,"t":3796,"h":0},{"s":"r","c":46,"t":3798,"h":3},{"s":"r","c":46,"t":3800,"h":5.4},{"s":"r","c":46,"t":3804,"h":6},{"s":"r","c":46,"t":3812,"h":6.3},{"s":"r","c":46,"t":3826,"h":6.45},{"s":"r","c":46,"t":3875,"h":6.5},{"s":"b","c":46,"t":3875,"h":6.5},{"s":"b","c":46,"t":3877,"h":3},{"s":"b","c":46,"t":3879,"h":0.8},{"s":"b","c":46,"t":3881,"h":0.15},{"s":"b","c":46,"t":3883,"h":0},
{"s":"r","c":47,"t":3890,"h":0},{"s":"r","c":47,"t":3892,"h":3},{"s":"r","c":47,"t":3894,"h":5.4},{"s":"r","c":47,"t":3898,"h":6},{"s":"r","c":47,"t":3906,"h":6.3},{"s":"r","c":47,"t":3920,"h":6.45},{"s":"r","c":47,"t":3971,"h":6.5},{"s":"b","c":47,"t":3971,"h":6.5},{"s":"b","c":47,"t":3973,"h":3},{"s":"b","c":47,"t":3975,"h":0.8},{"s":"b","c":47,"t":3977,"h":0.15},{"s":"b","c":47,"t":3979,"h":0},
{"s":"r","c":48,"t":3986,"h":0},{"s":"r","c":48,"t":3988,"h":3},{"s":"r","c":48,"t":3990,"h":5.4},{"s":"r","c":48,"t":3994,"h":6},{"s":"r","c":48,"t":4002,"h":6.3},{"s":"r","c":48,"t":4016,"h":6.45},{"s":"r","c":48,"t":4078,"h":6.5},{"s":"b","c":48,"t":4078,"h":6.5},{"s":"b","c":48,"t":4080,"h":3},{"s":"b","c":48,"t":4082,"h":0.8},{"s":"b","c":48,"t":4084,"h":0.15},{"s":"b","c":48,"t":4086,"h":0},
{"s":"r","c":49,"t":4093,"h":0},{"s":"r","c":49,"t":4095,"h":3},{"s":"r","c":49,"t":4097,"h":5.4},{"s":"r","c":49,"t":4101,"h":6},{"s":"r","c":49,"t":4109,"h":6.3},{"s":"r","c":49,"t":4123,"h":6.45},{"s":"r","c":49,"t":4192,"h":6.5},{"s":"b","c":49,"t":4192,"h":6.5},{"s":"b","c":49,"t":4194,"h":3},{"s":"b","c":49,"t":4196,"h":0.8},{"s":"b","c":49,"t":4198,"h":0.15},{"s":"b","c":49,"t":4200,"h":0}
  ]},
   "mark":{"type":"line","strokeWidth":1.5},
   "encoding":{
    "x":{"field":"t","type":"quantitative","scale":{"domain":[-100,4250],"nice":false,"zero":false},"axis":{"values":[0,500,1000,1500,2000,2500,3000,3500,4000],"format":"d","title":"Time (min)","titleFontSize":24,"labelFontSize":17,"tickSize":5,"labelPadding":3,"titlePadding":6}},
    "y":{"field":"h","type":"quantitative","scale":{"domain":[-0.47,7],"reverse":true,"nice":false,"zero":false},"axis":{"values":[0,1,2,3,4,5,6,7],"title":"H/M (wt%)","titleFontSize":26,"labelFontSize":18,"tickSize":6,"labelPadding":3,"titlePadding":4,"minExtent":10,"maxExtent":40}},
    "color":{"field":"s","type":"nominal","scale":{"domain":["r","b"],"range":["#d04a4f","#5b6fd0"]},"legend":null},
    "detail":{"field":"c","type":"nominal"}
   }},
  {"data":{"values":[{"t":0,"n":0},{"t":799,"n":10},{"t":1586,"n":20},{"t":2423,"n":30},{"t":3290,"n":40},{"t":4200,"n":50}]},
   "mark":{"type":"point","opacity":0},
   "encoding":{
    "x":{"field":"t","type":"quantitative","scale":{"domain":[-100,4250],"nice":false,"zero":false},"axis":{"orient":"top","values":[0,799,1586,2423,3290,4200],"labelExpr":"['0','10','20','30','40','50'][indexof([0,799,1586,2423,3290,4200],datum.value)]","title":"Cycle number","titleFontWeight":"normal","titleFontSize":21,"labelFontSize":18,"tickSize":8,"tickWidth":2.5,"tickColor":"#111","labelPadding":2,"titlePadding":4,"domain":false}}
   }}
 ],
 "resolve":{"axis":{"x":"independent"}}
}
],"spacing":60,"bounds":"flush"}
]}
]
}
